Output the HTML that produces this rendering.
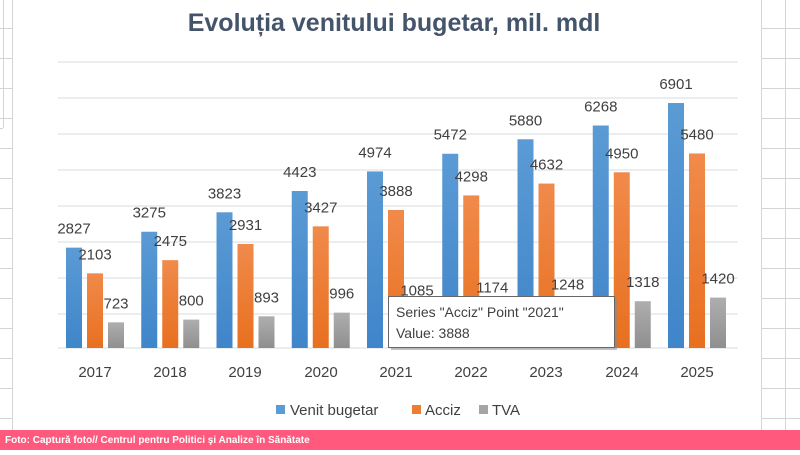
<!DOCTYPE html>
<html><head><meta charset="utf-8"><style>
body{margin:0;width:800px;height:450px;overflow:hidden;background:#fff;font-family:"Liberation Sans",sans-serif}
</style></head><body>
<svg width="800" height="450" xmlns="http://www.w3.org/2000/svg" font-family="Liberation Sans, DejaVu Sans, sans-serif">
<defs>
<linearGradient id="gb" x1="0" y1="0" x2="0" y2="1"><stop offset="0" stop-color="#5b9bd5"/><stop offset="1" stop-color="#3f85c9"/></linearGradient>
<linearGradient id="go" x1="0" y1="0" x2="0" y2="1"><stop offset="0" stop-color="#f08a4b"/><stop offset="1" stop-color="#e8701f"/></linearGradient>
<linearGradient id="gg" x1="0" y1="0" x2="0" y2="1"><stop offset="0" stop-color="#aeaeae"/><stop offset="1" stop-color="#8f8f8f"/></linearGradient>
</defs>
<g stroke="#d4d4d4" stroke-width="1">
<line x1="12.5" y1="0" x2="12.5" y2="430"/><line x1="3.5" y1="0" x2="3.5" y2="128"/><line x1="0" y1="128.5" x2="3" y2="128.5"/>
<line x1="0" y1="28.5" x2="12" y2="28.5"/><line x1="0" y1="58.5" x2="12" y2="58.5"/><line x1="0" y1="88.5" x2="12" y2="88.5"/><line x1="0" y1="118.5" x2="12" y2="118.5"/>
<line x1="0" y1="148.5" x2="12" y2="148.5"/><line x1="0" y1="178.5" x2="12" y2="178.5"/><line x1="0" y1="208.5" x2="12" y2="208.5"/><line x1="0" y1="238.5" x2="12" y2="238.5"/><line x1="0" y1="268.5" x2="12" y2="268.5"/><line x1="0" y1="298.5" x2="12" y2="298.5"/><line x1="0" y1="328.5" x2="12" y2="328.5"/><line x1="0" y1="358.5" x2="12" y2="358.5"/><line x1="0" y1="388.5" x2="12" y2="388.5"/><line x1="0" y1="418.5" x2="12" y2="418.5"/>
<line x1="761.5" y1="0" x2="761.5" y2="430"/><line x1="785.5" y1="0" x2="785.5" y2="450"/>
<line x1="762" y1="28.5" x2="800" y2="28.5"/><line x1="762" y1="58.5" x2="800" y2="58.5"/><line x1="762" y1="88.5" x2="800" y2="88.5"/><line x1="762" y1="118.5" x2="800" y2="118.5"/><line x1="762" y1="148.5" x2="800" y2="148.5"/><line x1="762" y1="178.5" x2="800" y2="178.5"/><line x1="762" y1="208.5" x2="800" y2="208.5"/><line x1="762" y1="238.5" x2="800" y2="238.5"/><line x1="762" y1="268.5" x2="800" y2="268.5"/><line x1="762" y1="298.5" x2="800" y2="298.5"/><line x1="762" y1="328.5" x2="800" y2="328.5"/><line x1="762" y1="358.5" x2="800" y2="358.5"/><line x1="762" y1="388.5" x2="800" y2="388.5"/><line x1="762" y1="418.5" x2="800" y2="418.5"/>
</g>
<text x="394" y="31" text-anchor="middle" font-size="25" font-weight="bold" fill="#44546a">Evoluția venitului bugetar, mil. mdl</text>
<g stroke="#dfe3e8" stroke-width="1.2">
<line x1="58" y1="62" x2="738" y2="62"/><line x1="58" y1="98" x2="738" y2="98"/><line x1="58" y1="134" x2="738" y2="134"/><line x1="58" y1="170" x2="738" y2="170"/><line x1="58" y1="206" x2="738" y2="206"/><line x1="58" y1="242" x2="738" y2="242"/><line x1="58" y1="278" x2="738" y2="278"/><line x1="58" y1="314" x2="738" y2="314"/><line x1="58" y1="348" x2="738" y2="348"/>
</g>
<g id="bars"></g>
<g id="labels" font-size="15" fill="#404040" text-anchor="middle"></g>
<g font-size="15" fill="#404040" text-anchor="middle">
<text x="95" y="377">2017</text><text x="170" y="377">2018</text><text x="245" y="377">2019</text><text x="321" y="377">2020</text><text x="396" y="377">2021</text><text x="471" y="377">2022</text><text x="546" y="377">2023</text><text x="622" y="377">2024</text><text x="697" y="377">2025</text>
</g>
<rect x="391" y="299" width="226" height="51" fill="#888" opacity="0.5"/>
<rect x="388.5" y="296.5" width="226" height="51" fill="#fff" stroke="#666"/>
<text x="396" y="317" font-size="14" fill="#404040">Series "Acciz" Point "2021"</text>
<text x="396" y="338" font-size="14" fill="#404040">Value: 3888</text>
<rect x="276" y="405" width="9" height="9" fill="#5b9bd5"/><text x="290" y="415" font-size="15" fill="#404040">Venit bugetar</text>
<rect x="412" y="405" width="9" height="9" fill="#ed7d31"/><text x="425" y="415" font-size="15" fill="#404040">Acciz</text>
<rect x="479" y="405" width="9" height="9" fill="#a5a5a5"/><text x="492" y="415" font-size="15" fill="#404040">TVA</text>
<rect x="0" y="430" width="800" height="20" fill="#ff5a7e"/>
<text x="5" y="443" font-size="10" font-weight="bold" fill="#fff">Foto: Captură foto// Centrul pentru Politici şi Analize în Sănătate</text>
</svg>
<script>
var V=[2827,3275,3823,4423,4974,5472,5880,6268,6901],A=[2103,2475,2931,3427,3888,4298,4632,4950,5480],T=[723,800,893,996,1085,1174,1248,1318,1420];
var ns="http://www.w3.org/2000/svg",b=document.getElementById("bars"),L=document.getElementById("labels");
function r(x,h,f){var e=document.createElementNS(ns,"rect");e.setAttribute("x",x);e.setAttribute("y",348-h);e.setAttribute("width",16);e.setAttribute("height",h);e.setAttribute("fill",f);b.appendChild(e);}
function t(x,h,s){var e=document.createElementNS(ns,"text");e.setAttribute("x",x);e.setAttribute("y",348-h-14);e.textContent=s;L.appendChild(e);}
for(var i=0;i<9;i++){var c=95+75.25*i,k=0.0355;r(c-29,V[i]*k,"url(#gb)");r(c-8,A[i]*k,"url(#go)");r(c+13,T[i]*k,"url(#gg)");t(c-21,V[i]*k,V[i]);t(c,A[i]*k,A[i]);t(c+21,T[i]*k,T[i]);}
</script>
</body></html>
